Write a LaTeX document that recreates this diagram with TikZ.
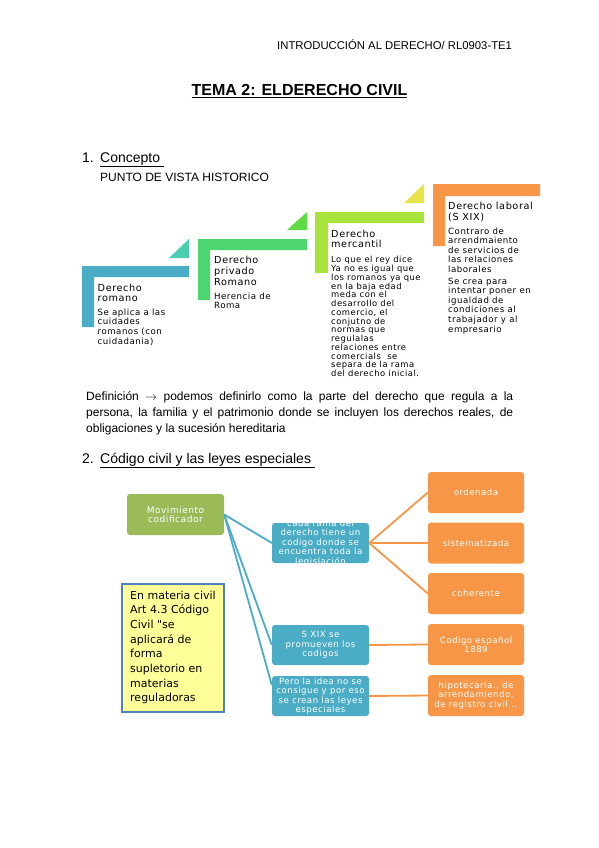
\documentclass[tikz,border=0pt]{standalone}
\usepackage{fontspec}
\setmainfont{Liberation Sans}
\newfontfamily\sa{DejaVu Sans}
\newfontfamily\saw[LetterSpace=6.0]{DejaVu Sans}
\usetikzlibrary{calc}
\newcommand\mylines[2]{\parbox[t]{#1}{\raggedright #2}}
\definecolor{cblue}{HTML}{4BACC6}
\definecolor{cteal}{HTML}{4BCDB0}
\definecolor{cgreen}{HTML}{4DD56F}
\definecolor{cgreentri}{HTML}{5FDC45}
\definecolor{cyg}{HTML}{A9E33E}
\definecolor{cyellow}{HTML}{E8E34B}
\definecolor{corange}{HTML}{F79646}
\definecolor{cmov}{HTML}{9BBB59}
\definecolor{cnote}{HTML}{FFFF99}
\definecolor{cnoteb}{HTML}{4F81BD}
\tikzset{
  plain/.style={inner sep=0pt, anchor=base west},
  sbox/.style={rounded corners=3pt, minimum width=97pt, minimum height=40pt, inner sep=0pt},
  tbox/.style={sbox, fill=cblue},
  obox/.style={sbox, fill=corange, minimum width=96pt, minimum height=41pt},
  btxt/.style={inner sep=0pt, align=center, text=white, font=\saw\fontsize{8.6}{9.5}\selectfont},
  tline/.style={draw=cblue, line width=1.8pt},
  oline/.style={draw=corange, line width=1.8pt}
}
\begin{document}
\begin{tikzpicture}[x=1pt,y=-1pt]
\useasboundingbox (0,0) rectangle (599,848);
\fill[white] (0,0) rectangle (599,848);

% header
\node[plain, font=\fontsize{11.3}{13}\selectfont] (hdr) at (277,50) {INTRODUCCIÓN AL DERECHO/ RL0903-TE1};
\node[inner sep=0pt, anchor=base, font=\bfseries\fontsize{16}{19}\selectfont] (title) at (299.5,96) {\underline{TEMA 2: ELDERECHO CIVIL}};
\node[plain, font=\fontsize{14}{16}\selectfont] (n1) at (82,162) {1.};
\node[plain, font=\fontsize{14}{16}\selectfont] (s1) at (100,162) {\underline{Concepto\ }};
\node[plain, font=\fontsize{12}{14}\selectfont] (punto) at (100,181) {PUNTO DE VISTA HISTORICO};

% staircase
\fill[cblue] (82,266) -- (189,266) -- (189,277) -- (94,277) -- (94,327) -- (82,327) -- cycle;
\fill[cteal] (169,258) -- (189,258) -- (189,239) -- cycle;
\fill[cgreen] (198,239) -- (307,239) -- (307,250) -- (210,250) -- (210,300) -- (198,300) -- cycle;
\fill[cgreentri] (287,230) -- (307,230) -- (307,212) -- cycle;
\fill[cyg] (315,212) -- (424,212) -- (424,223) -- (328,223) -- (328,273) -- (315,273) -- cycle;
\fill[cyellow] (404,203) -- (424,203) -- (424,184) -- cycle;
\fill[corange] (433,184) -- (540,184) -- (540,196) -- (445,196) -- (445,246) -- (433,246) -- cycle;

\node[plain, font=\saw\fontsize{9.7}{10.5}\selectfont] (t1) at (97.5,291) {\mylines{85pt}{Derecho\\romano}};
\node[plain, font=\saw\fontsize{8.6}{9.9}\selectfont] (d1) at (97.5,315) {\mylines{85pt}{Se aplica a las\\cuidades\\romanos (con\\cuidadania)}};
\node[plain, font=\saw\fontsize{9.7}{11}\selectfont] (t2) at (214,263) {\mylines{85pt}{Derecho\\privado\\Romano}};
\node[plain, font=\saw\fontsize{8.6}{9.5}\selectfont] (d2) at (214,299) {\mylines{85pt}{Herencia de\\Roma}};
\node[plain, font=\saw\fontsize{9.7}{10.5}\selectfont] (t3) at (331,237) {\mylines{85pt}{Derecho\\mercantil}};
\node[plain, font=\saw\fontsize{8.4}{8.77}\selectfont] (d3) at (331,262.7) {\mylines{95pt}{Lo que el rey dice\\Ya no es igual que\\los romanos ya que\\en la baja edad\\meda con el\\desarrollo del\\comercio, el\\conjutno de\\normas que\\regulalas\\relaciones entre\\comercials\ \ se\\separa de la rama\\del derecho inicial.}};
\node[plain, font=\saw\fontsize{9.7}{11}\selectfont] (t4) at (448,209) {\mylines{95pt}{Derecho laboral\\(S XIX)}};
\node[plain, font=\saw\fontsize{8.6}{9.5}\selectfont] (d4a) at (448,234) {\mylines{95pt}{Contraro de\\arrendmaiento\\de servicios de\\las relaciones\\laborales}};
\node[plain, font=\saw\fontsize{8.6}{9.6}\selectfont] (d4b) at (448,284) {\mylines{95pt}{Se crea para\\intentar poner en\\igualdad de\\condiciones al\\trabajador y al\\empresario}};

% definition
\node[anchor=north west, inner sep=0pt, text width=427pt, align=justify, font=\fontsize{12}{16}\selectfont] (def) at (86,391) {Definición $\rightarrow$ podemos definirlo como la parte del derecho que regula a la\linebreak persona, la familia y el patrimonio donde se incluyen los derechos reales, de\linebreak obligaciones y la sucesión hereditaria};

\node[plain, font=\fontsize{14}{16}\selectfont] (n2) at (82,463) {2.};
\node[plain, font=\fontsize{14}{16}\selectfont] (s2) at (100,463) {\underline{Código civil y las leyes especiales\ }};

% diagram 2 boxes
\node[sbox, fill=cmov, minimum height=41pt] (mov) at (175.5,514.5) {};
\node[btxt, font=\saw\fontsize{9}{9.2}\selectfont] (movt) at (mov.center) {Movimiento\\codificador};
\node[tbox] (cada) at (320.5,543) {};
\begin{scope}
\clip (cada.south west) rectangle (cada.north east);
\node[btxt] (cadat) at (cada.center) {cada rama del\\derecho tiene un\\codigo donde se\\encuentra toda la\\legislación};
\end{scope}
\node[tbox] (sxix) at (320.5,645) {};
\node[btxt] (sxixt) at (sxix.center) {S XIX se\\promueven los\\codigos};
\node[tbox] (pero) at (320.5,696) {};
\node[btxt] (perot) at (pero.center) {Pero la idea no se\\consigue y por eso\\se crean las leyes\\especiales};

\node[obox] (ord) at (476,492.5) {};
\node[btxt] (ordt) at (ord.center) {ordenada};
\node[obox] (sis) at (476,543) {};
\node[btxt] (sist) at (sis.center) {sistematizada};
\node[obox] (coh) at (476,593.5) {};
\node[btxt] (coht) at (coh.center) {coherente};
\node[obox] (cod) at (476,644.5) {};
\node[btxt] (codt) at (cod.center) {Codigo español\\1889};
\node[obox] (hip) at (476,695.5) {};
\node[btxt] (hipt) at (hip.center) {hipotecaria., de\\arrendamiendo,\\de registro civil...};

\node[draw=cnoteb, fill=cnote, line width=1.8pt, minimum width=102pt, minimum height=128pt, inner sep=0pt] (note) at (173,648) {};
\node[plain, font=\sa\fontsize{11}{14.7}\selectfont] (notet) at (130,599) {\mylines{92pt}{En materia civil\\Art 4.3 Código\\Civil "se\\aplicará de\\forma\\supletorio en\\materias\\reguladoras}};

% connectors
\draw[tline] (mov.east) -- (cada.west);
\draw[tline] (mov.east) -- (sxix.west);
\draw[tline] (mov.east) -- ($(pero.west)+(0,-11)$);
\draw[oline] (cada.east) -- (ord.west);
\draw[oline] (cada.east) -- (sis.west);
\draw[oline] (cada.east) -- (coh.west);
\draw[oline] (sxix.east) -- (cod.west);
\draw[oline] (pero.east) -- (hip.west);
\end{tikzpicture}
\end{document}
